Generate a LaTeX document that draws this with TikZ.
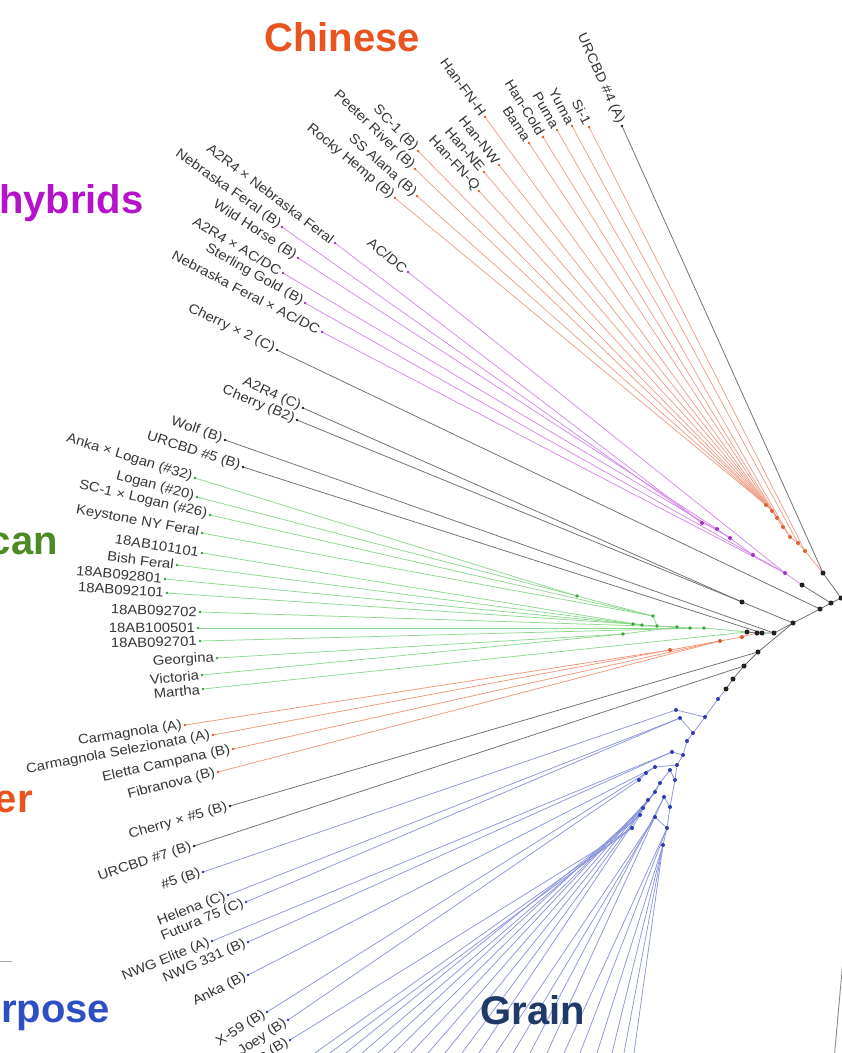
\documentclass[tikz,border=0pt]{standalone}
\usepackage{fontspec}
\setmainfont{Liberation Sans}
\newfontfamily\labfont[FakeStretch=1.1]{Liberation Sans}
\usetikzlibrary{calc}
\definecolor{chcol}{HTML}{E8531F}
\definecolor{hycol}{HTML}{B413C9}
\definecolor{cancol}{HTML}{4C8A26}
\definecolor{rpcol}{HTML}{2E4FC4}
\definecolor{grcol}{HTML}{1F3A68}
\definecolor{labcol}{HTML}{363636}
\definecolor{orL}{HTML}{F0A088}
\definecolor{orD}{HTML}{E06030}
\definecolor{puL}{HTML}{D58AEB}
\definecolor{puD}{HTML}{A030C8}
\definecolor{gnL}{HTML}{8FD88F}
\definecolor{gnD}{HTML}{3AA03A}
\definecolor{euL}{HTML}{F0987A}
\definecolor{euD}{HTML}{E05A30}
\definecolor{blL}{HTML}{8C96DC}
\definecolor{blD}{HTML}{2D3DB0}
\definecolor{gyL}{HTML}{6E6E6E}
\definecolor{gyD}{HTML}{202020}
\tikzset{
  lab/.style={font=\labfont\fontsize{13.5}{14}\selectfont, text=labcol, inner xsep=3pt, inner ysep=1pt},
  ttl/.style={font=\bfseries\fontsize{40}{48}\selectfont, inner sep=0pt},
  orline/.style={draw=orL, line width=0.75pt}, ordot/.style={fill=orD},
  puline/.style={draw=puL, line width=0.75pt}, pudot/.style={fill=puD},
  gnline/.style={draw=gnL, line width=0.75pt}, gndot/.style={fill=gnD},
  euline/.style={draw=euL, line width=0.75pt}, eudot/.style={fill=euD},
  blline/.style={draw=blL, line width=0.75pt}, bldot/.style={fill=blD},
  gyline/.style={draw=gyL, line width=0.75pt}, gydot/.style={fill=gyD},
}
\newcommand\leafnode[5]{%
  \coordinate (#2) at (#3);
  \draw[#1line] (#2) -- (#4);
  \fill[#1dot] (#2) circle (1.3pt);
  \path let \p1=($(#4)-(#2)$), \n1={atan2(\y1,\x1)} in
    node[lab,rotate=\n1,anchor=east] (#2-t) at (#2) {#5};
}
\newcommand\offleaf[4]{%
  \coordinate (#2) at ($(#3)!1.3!(#4)$);
  \draw[#1line] (#2) -- (#3);
}
\begin{document}
\begin{tikzpicture}[x=1pt,y=-1pt]
\useasboundingbox (0,0) rectangle (842,1053);
\fill[white] (0,0) rectangle (842,1053);
\clip (0,0) rectangle (842,1053);

% ---------- internal nodes ----------
\coordinate (B1) at (823,573);
\coordinate (B0) at (841,598);
\coordinate (B2) at (831,603);
\coordinate (B3) at (820,609);
\coordinate (B4) at (793,623);
\coordinate (Na) at (742,602);
\coordinate (H1) at (774,633);
\coordinate (H2) at (762,633);
\coordinate (H3) at (757,633);
\coordinate (G0) at (747,632);
\coordinate (O0) at (742,637);
\coordinate (B8) at (758,652);
\coordinate (B9) at (744,666);
\coordinate (B10) at (733,679);
\coordinate (B11) at (726,689);
\coordinate (Bl0) at (718,699);
\coordinate (Bl1) at (705,717);
\coordinate (Bl2) at (693,733);
\coordinate (Bl3) at (687,741);
\coordinate (Bl4) at (683,755);
\coordinate (Bl5) at (677,765);
\coordinate (Bl6) at (675,780);
\coordinate (Bl7) at (670,807);
\coordinate (Bl8) at (667,828);
\coordinate (Bl9) at (663,845);
\coordinate (X1) at (676,710);
\coordinate (X2) at (680,718);
\coordinate (X3) at (672,752);
\coordinate (S1) at (655,767);
\coordinate (S2) at (646,773);
\coordinate (S3) at (639,780);
\coordinate (T1) at (670,770);
\coordinate (T2) at (660,783);
\coordinate (T3) at (655,792);
\coordinate (T4) at (648,800);
\coordinate (T5) at (643,808);
\coordinate (T6) at (640,815);
\coordinate (T7) at (632,828);
\coordinate (U0) at (664,797);
\coordinate (U1) at (655,817);
\coordinate (C0) at (805,551);
\coordinate (C1) at (798,543);
\coordinate (C2) at (790,537);
\coordinate (C3) at (783,527);
\coordinate (C4) at (777,518);
\coordinate (C5) at (772,511);
\coordinate (C6) at (766,505);
\coordinate (P0) at (802,585);
\coordinate (P1) at (785,573);
\coordinate (P2) at (753,555);
\coordinate (P3) at (730,538);
\coordinate (P4) at (717,529);
\coordinate (P5) at (702,523);
\coordinate (G1) at (704,628);
\coordinate (G2) at (690,628);
\coordinate (G3) at (677,627);
\coordinate (G4) at (657,626);
\coordinate (G5) at (623,634);
\coordinate (G6) at (577,596);
\coordinate (G7) at (653,616);
\coordinate (G8) at (642,625);
\coordinate (G9) at (633,624);
\coordinate (O1) at (720,641);
\coordinate (O2) at (670,650);
\coordinate (R1) at (843,960);
\coordinate (R2) at (834,1060);
\coordinate (L1) at (-2,961);
\coordinate (L2) at (12,961);

% ---------- internal edges ----------
\draw[gyline] (B1) -- (B0) -- (B2) -- (B3) -- (B4);
\draw[gyline] (B4) -- (Na);
\draw[gyline] (B4) -- (H1) -- (H2) -- (H3);
\draw[gyline] (H3) -- (G0);
\draw[gyline] (B4) -- (B8) -- (B9) -- (B10) -- (B11);
\draw[gyline] (B2) -- (P0);
\draw[orline] (B1) -- (C0) -- (C1) -- (C2) -- (C3) -- (C4) -- (C5) -- (C6);
\draw[puline] (P0) -- (P1) -- (P2) -- (P3) -- (P4) -- (P5);
\draw[gnline] (G0) -- (G1) -- (G2) -- (G3) -- (G4);
\draw[gnline] (G3) -- (G5);
\draw[gnline] (G4) -- (G7) -- (G6);
\draw[gnline] (G4) -- (G8) -- (G9);
\draw[euline] (H3) -- (O0) -- (O1) -- (O2);
\draw[blline] (B11) -- (Bl0) -- (Bl1) -- (Bl2) -- (Bl3) -- (Bl4) -- (Bl5) -- (Bl6) -- (Bl7) -- (Bl8) -- (Bl9);
\draw[blline] (Bl1) -- (X1);
\draw[blline] (Bl2) -- (X2);
\draw[blline] (Bl4) -- (X3);
\draw[blline] (Bl5) -- (S1) -- (S2) -- (S3);
\draw[blline] (Bl6) -- (T1) -- (T2) -- (T3) -- (T4) -- (T5) -- (T6) -- (T7);
\draw[blline] (Bl7) -- (U0);
\draw[blline] (Bl8) -- (U1);
\draw[draw=gyL!80, line width=0.9pt] (R1) -- (R2);
\draw[draw=gyL!60, line width=0.8pt] (L1) -- (L2);

% ---------- Chinese ----------
\leafnode{gy}{URCBDf}{622,126}{B1}{URCBD \#4 (A)}
\leafnode{or}{Si}{589,127}{C0}{Si-1}
\leafnode{or}{Yuma}{572,126}{C1}{Yuma}
\leafnode{or}{Puma}{557,130}{C2}{Puma}
\leafnode{or}{HanCold}{543,137}{C3}{Han-Cold}
\leafnode{or}{Bama}{529,143}{C3}{Bama}
\leafnode{or}{HanFNH}{485,117}{C4}{Han-FN-H}
\leafnode{or}{HanNW}{499,165}{C5}{Han-NW}
\leafnode{or}{HanNE}{484,172}{C5}{Han-NE}
\leafnode{or}{HanFNQ}{479,191}{C5}{Han-FN-Q}
\leafnode{or}{SCone}{418,151}{C6}{SC-1 (B)}
\leafnode{or}{Peeter}{415,169}{C6}{Peeter River (B)}
\leafnode{or}{SSA}{417,196}{C6}{SS Alana (B)}
\leafnode{or}{Rocky}{395,198}{C6}{Rocky Hemp (B)}

% ---------- hybrids ----------
\leafnode{pu}{AtNF}{335,243}{P5}{A2R4 × Nebraska Feral}
\leafnode{pu}{NFB}{282,227}{P5}{Nebraska Feral (B)}
\leafnode{pu}{ACDC}{408,272}{P1}{AC/DC}
\leafnode{pu}{WildH}{298,258}{P4}{Wild Horse (B)}
\leafnode{pu}{AtACDC}{283,273}{P3}{A2R4 × AC/DC}
\leafnode{pu}{Sterling}{305,303}{P2}{Sterling Gold (B)}
\leafnode{pu}{NFxACDC}{322,332}{P1}{Nebraska Feral × AC/DC}
\leafnode{gy}{CherryTwo}{277,350}{B3}{Cherry × 2 (C)}

% ---------- grey ----------
\leafnode{gy}{AtC}{303,408}{Na}{A2R4 (C)}
\leafnode{gy}{CherryBt}{297,420}{Na}{Cherry (B2)}
\leafnode{gy}{Wolf}{225,440}{H1}{Wolf (B)}
\leafnode{gy}{URCBDv}{243,467}{H2}{URCBD \#5 (B)}

% ---------- green ----------
\leafnode{gn}{AnkaLogan}{195,478}{G6}{Anka × Logan (\#32)}
\leafnode{gn}{LoganT}{197,497}{G6}{Logan (\#20)}
\leafnode{gn}{SCLogan}{210,515}{G7}{SC-1 × Logan (\#26)}
\leafnode{gn}{Keystone}{202,533}{G7}{Keystone NY Feral}
\leafnode{gn}{ABa}{202,553}{G8}{18AB101101}
\leafnode{gn}{Bish}{177,565}{G8}{Bish Feral}
\leafnode{gn}{ABb}{165,579}{G9}{18AB092801}
\leafnode{gn}{ABc}{167,593}{G9}{18AB092101}
\leafnode{gn}{ABd}{200,612}{G3}{18AB092702}
\leafnode{gn}{ABe}{198,628}{G2}{18AB100501}
\leafnode{gn}{ABf}{200,641}{G1}{18AB092701}
\leafnode{gn}{Georgina}{217,658}{G5}{Georgina}
\leafnode{gn}{Victoria}{202,675}{G5}{Victoria}
\leafnode{gn}{Martha}{203,689}{G0}{Martha}

% ---------- European ----------
\leafnode{eu}{Carm}{185,725}{O2}{Carmagnola (A)}
\leafnode{eu}{CarmSel}{213,735}{O2}{Carmagnola Selezionata (A)}
\leafnode{eu}{Eletta}{233,749}{O1}{Eletta Campana (B)}
\leafnode{eu}{Fibra}{218,772}{O1}{Fibranova (B)}
\leafnode{gy}{CherryFive}{230,806}{B8}{Cherry × \#5 (B)}
\leafnode{gy}{URCBDs}{194,846}{B9}{URCBD \#7 (B)}

% ---------- blue ----------
\leafnode{bl}{Five}{203,872}{X1}{\#5 (B)}
\leafnode{bl}{Helena}{228,895}{X2}{Helena (C)}
\leafnode{bl}{Futura}{246,902}{X2}{Futura 75 (C)}
\leafnode{bl}{NWGE}{212,941}{X3}{NWG Elite (A)}
\leafnode{bl}{NWGt}{248,942}{X3}{NWG 331 (B)}
\leafnode{bl}{Anka}{248,975}{S1}{Anka (B)}
\leafnode{bl}{Xfn}{267,1012}{S2}{X-59 (B)}
\leafnode{bl}{Joey}{288,1020}{S3}{Joey (B)}
\leafnode{bl}{Jamie}{290,1040}{T7}{Jamie (B)}

\offleaf{bl}{e1}{T7}{315,1053}
\offleaf{bl}{e2}{T7}{330,1053}
\offleaf{bl}{e3}{T6}{346,1053}
\offleaf{bl}{e4}{T6}{362,1053}
\offleaf{bl}{e5}{T5}{378,1053}
\offleaf{bl}{e6}{T5}{394,1053}
\offleaf{bl}{e7}{T4}{411,1053}
\offleaf{bl}{e8}{T4}{428,1053}
\offleaf{bl}{e9}{T3}{445,1053}
\offleaf{bl}{e10}{T3}{462,1053}
\offleaf{bl}{e11}{T2}{479,1053}
\offleaf{bl}{e12}{U1}{496,1053}
\offleaf{bl}{e13}{U1}{513,1053}
\offleaf{bl}{e14}{U0}{530,1053}
\offleaf{bl}{e15}{U0}{547,1053}
\offleaf{bl}{e16}{Bl8}{564,1053}
\offleaf{bl}{e17}{Bl8}{580,1053}
\offleaf{bl}{e18}{Bl9}{597,1053}
\offleaf{bl}{e19}{Bl9}{612,1053}
\offleaf{bl}{e20}{Bl9}{624,1053}
\offleaf{bl}{e21}{Bl9}{634,1053}

% ---------- internal dots ----------
\foreach \n in {B1,B0,B2,B3,B4,Na,H1,H2,H3,G0,B8,B9,B10,B11,P0}
  \fill[gydot] (\n) circle (2.5pt);
\foreach \n in {C0,C1,C2,C3,C4,C5,C6}
  \fill[ordot] (\n) circle (2pt);
\foreach \n in {P1,P2,P3,P4,P5}
  \fill[pudot] (\n) circle (2pt);
\foreach \n in {G1,G2,G3,G4,G5,G6,G7,G8,G9}
  \fill[gndot] (\n) circle (1.8pt);
\foreach \n in {O0,O1,O2}
  \fill[eudot] (\n) circle (2pt);
\foreach \n in {Bl0,Bl1,Bl2,Bl3,Bl4,Bl5,Bl6,Bl7,Bl8,Bl9,X1,X2,X3,S1,S2,S3,T1,T2,T3,T4,T5,T6,T7,U0,U1}
  \fill[bldot] (\n) circle (2pt);

% ---------- titles ----------
\node[ttl, text=chcol, anchor=base] (tChinese) at (342,51) {Chinese};
\node[ttl, text=hycol, anchor=base west] (tHybrids) at (-1,213) {hybrids};
\node[ttl, text=cancol, anchor=base east] (tCan) at (58,554) {can};
\node[ttl, text=chcol, anchor=base east] (tEr) at (33,812) {er};
\node[ttl, text=rpcol, anchor=base west] (tRpose) at (1,1022) {rpose};
\node[ttl, text=grcol, anchor=base] (tGrain) at (533,1024) {Grain};
\end{tikzpicture}
\end{document}
